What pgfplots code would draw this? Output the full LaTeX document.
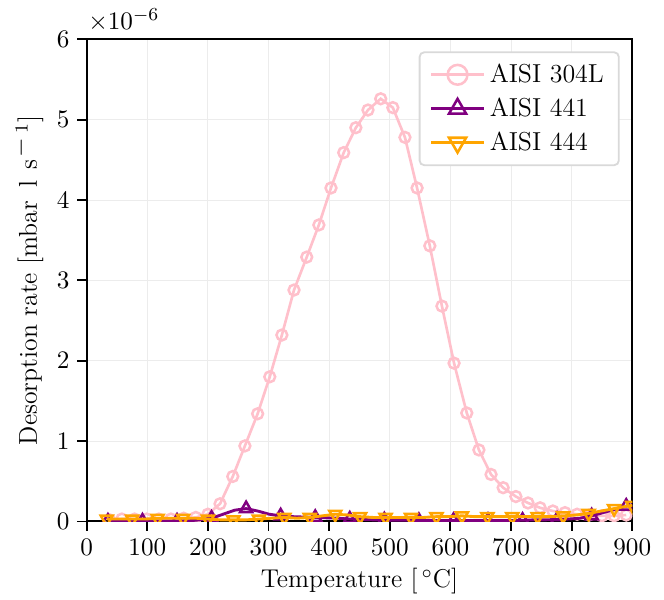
\documentclass[border=0pt]{standalone}
\usepackage{pgfplots}
\pgfplotsset{compat=1.18}
\definecolor{mpink}{HTML}{FFC0CB}
\definecolor{mpurple}{HTML}{800080}
\definecolor{morange}{HTML}{FFA500}
\pgfplotstableread{
x y
38 0.02
58 0.03
79 0.03
99 0.03
119 0.03
139 0.03
160 0.04
180 0.05
200 0.09
220 0.22
241 0.56
261 0.94
282 1.34
302 1.80
322 2.32
342 2.88
363 3.29
383 3.69
403 4.15
424 4.59
444 4.90
464 5.12
485 5.26
505 5.15
525 4.78
545 4.15
566 3.43
586 2.68
606 1.97
627 1.35
647 0.89
667 0.585
687 0.42
708 0.31
728 0.23
748 0.17
769 0.13
789 0.11
809 0.09
829 0.08
850 0.07
870 0.07
890 0.08
}\tabA
\pgfplotstableread{
x y
35 0.005
54 0.005
73 0.005
92 0.005
111 0.005
130 0.005
149 0.005
168 0.008
187 0.02
206 0.04
225 0.09
244 0.14
263 0.16
282 0.13
301 0.09
320 0.07
339 0.06
358 0.055
377 0.05
396 0.045
415 0.04
434 0.03
453 0.025
472 0.02
491 0.02
510 0.015
529 0.015
548 0.012
567 0.012
586 0.012
605 0.012
624 0.012
643 0.012
662 0.012
681 0.012
700 0.012
719 0.015
738 0.02
757 0.02
776 0.025
795 0.03
814 0.04
833 0.07
852 0.11
871 0.15
890 0.19
900 0.21
}\tabB
\pgfplotstableread{
x y
33 0.03
54 0.03
75 0.03
96 0.03
117 0.04
138 0.04
159 0.04
180 0.04
200 0.03
221 0.02
242 0.02
263 0.02
284 0.03
305 0.04
326 0.05
347 0.04
368 0.05
389 0.07
410 0.09
431 0.08
451 0.06
472 0.05
493 0.05
514 0.05
535 0.05
556 0.05
577 0.06
598 0.06
619 0.07
640 0.06
661 0.06
682 0.06
702 0.06
723 0.06
744 0.06
765 0.06
786 0.07
807 0.08
828 0.10
849 0.13
870 0.16
891 0.19
900 0.20
}\tabC
\begin{document}
\begin{tikzpicture}
\begin{axis}[
 scale only axis, width=237.3pt, height=209.7pt,
 xmin=0, xmax=900, ymin=0, ymax=6,
 xtick={0,100,...,900}, ytick={0,1,...,6},
 tick align=outside, tick pos=left,
 major tick length=4pt,
 axis line style={line width=0.9pt},
 every tick/.style={black, line width=0.8pt},
 grid=major, grid style={gray!15, line width=0.45pt},
 tick label style={font=\fontsize{10.5}{12}\selectfont},
 label style={font=\fontsize{11.2}{13.2}\selectfont},
 xlabel={Temperature [\,$^\circ$C]},
 ylabel={Desorption rate [mbar\hspace{6pt}l\hspace{4.5pt}s\hspace{1pt}$^{\displaystyle -\,\scriptstyle 1}$]},
 ylabel style={yshift=-1pt},
 xlabel style={yshift=1pt},
 legend style={at={(0.977,0.975)}, anchor=north east, draw=gray!30, rounded corners=2pt, line width=0.8pt, row sep=1.2pt, inner xsep=4.5pt, inner ysep=3pt, font=\fontsize{11.3}{13.3}\selectfont},
 legend cell align=left,
 legend image code/.code={\draw[mark repeat=2,mark phase=2,#1] plot coordinates {(0cm,0cm) (0.4cm,0cm) (0.8cm,0cm)};},
 legend image post style={mark size=4.3pt},
 clip=true, clip marker paths=true,
]
\addplot[color=mpink, line width=1.15pt, mark=o, mark size=2.35pt, mark options={line width=1.1pt}] table[x=x,y=y]{\tabA};
\addlegendentry{AISI 304L}
\addplot[color=mpurple, line width=1.25pt, mark=triangle, mark repeat=3, mark size=3pt, mark options={line width=1.1pt}] table[x=x,y=y]{\tabB};
\addlegendentry{AISI 441}
\addplot[color=morange, line width=1.25pt, mark=triangle, mark repeat=2, mark size=3pt, mark options={line width=1.1pt, rotate=180}] table[x=x,y=y]{\tabC};
\addlegendentry{AISI 444}
\end{axis}
\node[anchor=south west, inner sep=0pt, font=\fontsize{11}{13}\selectfont] at ([xshift=0.5pt,yshift=3pt]current axis.north west) {$\times10^{-6}$};
\pgfresetboundingbox
\path ([xshift=-37.7pt,yshift=-33.8pt]current axis.south west) rectangle ([xshift=13.8pt,yshift=17.1pt]current axis.north east);
\end{tikzpicture}
\end{document}
